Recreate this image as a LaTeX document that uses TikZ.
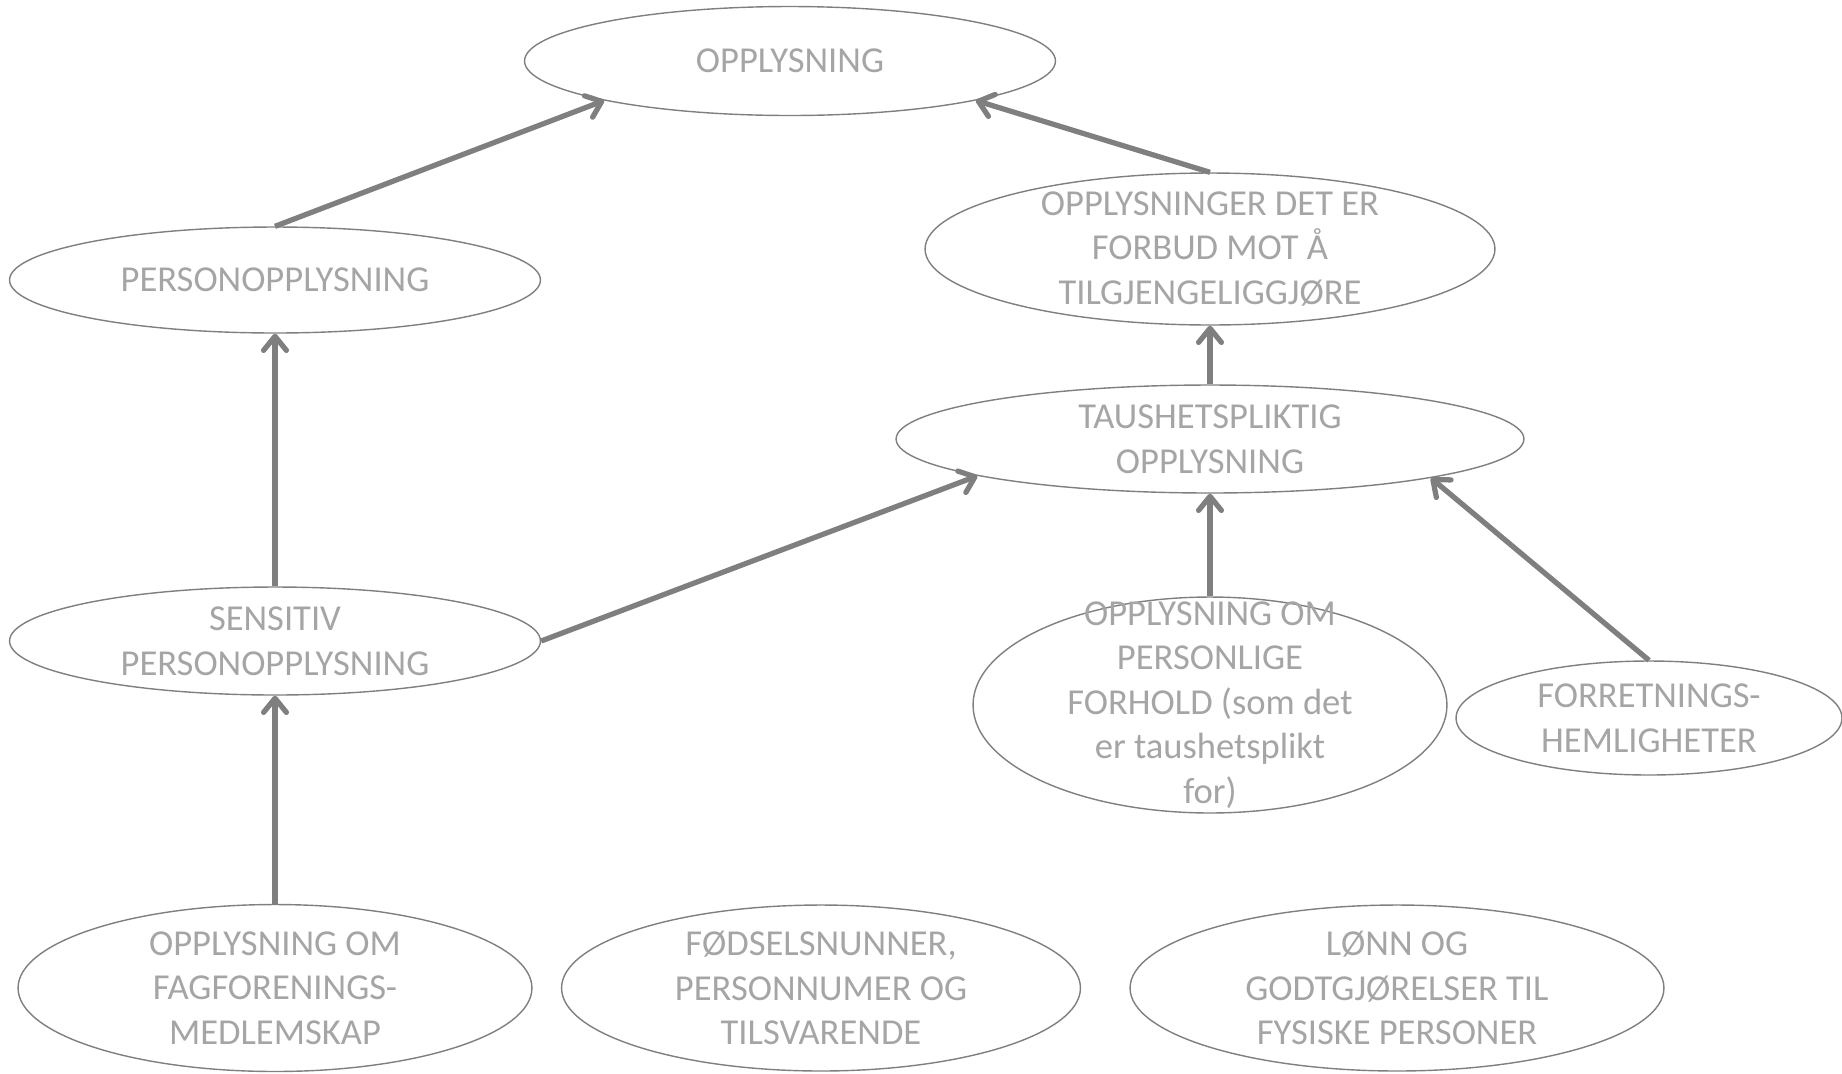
\documentclass[tikz,border=0pt]{standalone}
\usepackage{fontspec}
\setmainfont{Carlito}
\usepackage{tikz}
\usetikzlibrary{shapes.geometric}
\usetikzlibrary{arrows.meta}

\definecolor{rimgray}{HTML}{7F7F7F}
\definecolor{textgray}{HTML}{A5A5A5}

\begin{document}
\begin{tikzpicture}[x=0.02cm, y=-0.02cm,
	blob/.style={ellipse, draw=rimgray, line width=0.8pt, inner sep=0pt},
	txt/.style={text=textgray, align=center, font=\fontsize{20.8}{25.4}\selectfont},
	link/.style={draw=rimgray, line width=3pt, -{Straight Barb[round, length=8pt, width=13pt]}}]
	\useasboundingbox (0, 0) rectangle (1842, 1073);

	\node[blob, minimum width=10.62cm, minimum height=2.18cm] (opp) at (790, 61) {};
	\node[blob, minimum width=10.62cm, minimum height=2.12cm] (pers) at (275, 280) {};
	\node[blob, minimum width=10.62cm, minimum height=2.16cm] (sens) at (275, 641) {};
	\node[blob, minimum width=11.4cm, minimum height=3.04cm] (forbud) at (1210, 249) {};
	\node[blob, minimum width=12.56cm, minimum height=2.16cm] (taus) at (1210, 439) {};
	\node[blob, minimum width=9.48cm, minimum height=4.32cm] (perslig) at (1210, 705) {};
	\node[blob, minimum width=7.72cm, minimum height=2.28cm] (forr) at (1649, 718) {};
	\node[blob, minimum width=10.28cm, minimum height=3.34cm] (fag) at (275, 988) {};
	\node[blob, minimum width=10.38cm, minimum height=3.32cm] (fods) at (821, 988) {};
	\node[blob, minimum width=10.68cm, minimum height=3.32cm] (lonn) at (1397, 988) {};

	% texts
	\node[txt] (opp-t) at (opp) {OPPLYSNING};
	\node[txt] (pers-t) at (pers) {PERSONOPPLYSNING};
	\node[txt] (sens-t) at (sens) {SENSITIV\\PERSONOPPLYSNING};
	\node[txt] (forbud-t) at (forbud) {OPPLYSNINGER DET ER\\FORBUD MOT Å\\TILGJENGELIGGJØRE};
	\node[txt] (taus-t) at (taus) {TAUSHETSPLIKTIG\\OPPLYSNING};
	\node[txt] (perslig-t) at (perslig) {OPPLYSNING OM\\PERSONLIGE\\FORHOLD (som det\\er taushetsplikt\\for)};
	\node[txt] (forr-t) at (forr) {FORRETNINGS-\\HEMLIGHETER};
	\node[txt] (fag-t) at (fag) {OPPLYSNING OM\\FAGFORENINGS-\\MEDLEMSKAP};
	\node[txt] (fods-t) at (fods) {FØDSELSNUNNER,\\PERSONNUMER OG\\TILSVARENDE};
	\node[txt] (lonn-t) at (lonn) {LØNN OG\\GODTGJØRELSER TIL\\FYSISKE PERSONER};

	\draw[link] (pers.north) -- (opp.192);
	\draw[link] (forbud.north) -- (opp.348);
	\draw[link] (taus.north) -- (forbud.south);
	\draw[link] (sens.north) -- (pers.south);
	\draw[link] (sens.east) -- (taus.189.5);
	\draw[link] (perslig.north) -- (taus.south);
	\draw[link] (forr.north) -- (taus.350.3);
	\draw[link] (fag.north) -- (sens.south);

\end{tikzpicture}
\end{document}
